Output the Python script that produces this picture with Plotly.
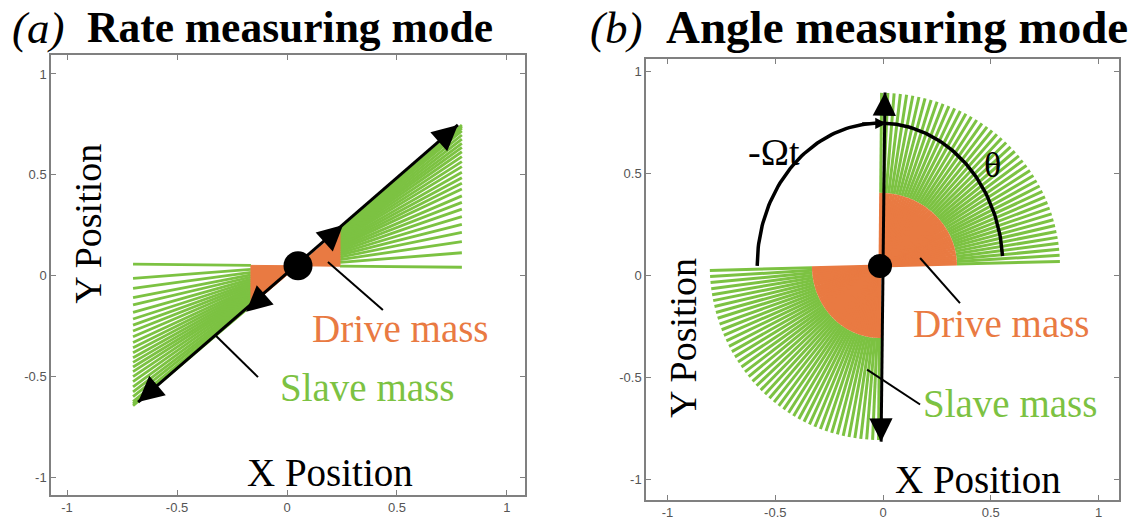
import numpy as np
import plotly.graph_objects as go

GREEN = "#7cc242"
ORANGE = "#e97a42"
AXGRAY = "#808080"
SERIF = "Liberation Serif"

# ---------------- Panel (a): rate measuring mode ----------------
a_pivot = (0.05, 0.048)
a_right_x_in, a_right_x_out = 0.241, 0.795
a_right_end_y = [0.041, 0.113, 0.168, 0.214, 0.254, 0.292, 0.329, 0.363, 0.395, 0.429,
                 0.458, 0.485, 0.512, 0.540, 0.565, 0.590, 0.614, 0.636, 0.656, 0.677,
                 0.697, 0.717, 0.731, 0.740, 0.747]
a_left_x_in, a_left_x_out = -0.164, -0.700
a_left_end_y = [0.056, -0.014, -0.064, -0.110, -0.146, -0.183, -0.216, -0.246, -0.275,
                -0.304, -0.332, -0.358, -0.383, -0.408, -0.431, -0.454, -0.477, -0.502,
                -0.527, -0.552, -0.577, -0.601, -0.626, -0.637, -0.646]
a_axis_tips = [(-0.677, -0.628), (0.777, 0.747)]
a_mid_tips = [(0.255, 0.251), (-0.186, -0.180)]
a_pointers = [((0.186, 0.067), (0.436, -0.171)), ((-0.327, -0.295), (-0.132, -0.504))]

# ---------------- Panel (b): angle measuring mode ----------------
b_pivot = (-0.014, 0.047)
b_q1_angles = [1.5, 3.5, 5.5, 7.5, 9.5, 11.5, 13.5, 15.5, 17.5, 19.5, 21.5, 23.5, 25.5,
               27.5, 29.5, 31.5, 33.5, 35.5, 37.5, 39.5, 41.5, 43.5, 45.5, 47.5, 49.5,
               51.5, 53.5, 55.5, 57.5, 59.5, 61.5, 63.5, 65.5, 67.5, 69.5, 71.5, 73.5,
               75.5, 77.5, 79.5, 81.5, 83.5, 85.5, 87.5, 89.5]
b_q3_angles = [181.5, 183.5, 185.5, 187.5, 189.5, 191.5, 193.5, 195.5, 197.5, 199.5,
               201.5, 203.5, 205.5, 207.5, 209.5, 211.5, 213.5, 215.5, 217.5, 219.5,
               221.5, 223.5, 225.5, 227.5, 229.5, 231.5, 233.5, 235.5, 237.5, 239.5,
               241.5, 243.5, 245.5, 247.5, 249.5, 251.5, 253.5, 255.5, 257.5, 259.5,
               261.5, 263.5, 265.5, 267.5, 269.5]
b_q1_r_in, b_q1_r_out = (0.357, 0.358), (0.835, 0.848)
b_q3_r_in, b_q3_r_out = (0.316, 0.353), (0.790, 0.853)
b_arc_r = (0.57, 0.70)
b_arc_span = (180.0, 4.0)
b_axis_tips = [(0.009, 0.897), (-0.009, -0.814)]
b_arc_tip = (0.016, 0.745)
b_pointers = [((0.172, 0.086), (0.357, -0.135)), ((-0.074, -0.461), (0.172, -0.632))]

tick_vals = [-1, -0.5, 0, 0.5, 1]
tick_text = ["-1", "-0.5", "0", "0.5", "1"]


def fan_segments(pivot, x_in, x_out, end_y):
    px, py = pivot
    xs, ys, inner = [], [], []
    for ye in end_y:
        s = (ye - py) / (x_out - px)
        yi = py + s * (x_in - px)
        xs += [x_in, x_out, None]
        ys += [yi, ye, None]
        inner.append(yi)
    return xs, ys, inner


def radial_segments(pivot, angles, r0, r1):
    px, py = pivot
    xs, ys = [], []
    for a in angles:
        c, s = np.cos(np.radians(a)), np.sin(np.radians(a))
        xs += [px + r0[0] * c, px + r1[0] * c, None]
        ys += [py + r0[1] * s, py + r1[1] * s, None]
    return xs, ys


fig = go.Figure()

# ---- panel (a) ----
for x_in, x_out, ends in [(a_right_x_in, a_right_x_out, a_right_end_y),
                          (a_left_x_in, a_left_x_out, a_left_end_y)]:
    xs, ys, inner = fan_segments(a_pivot, x_in, x_out, ends)
    fig.add_trace(go.Scatter(x=xs, y=ys, mode="lines", line=dict(color=GREEN, width=2.8),
                             xaxis="x", yaxis="y", hoverinfo="skip"))
    fig.add_trace(go.Scatter(x=[a_pivot[0], x_in, x_in, a_pivot[0]],
                             y=[a_pivot[1], inner[0], inner[-1], a_pivot[1]],
                             mode="lines", fill="toself", fillcolor=ORANGE,
                             line=dict(color=ORANGE, width=1), xaxis="x", yaxis="y",
                             hoverinfo="skip"))
fig.add_trace(go.Scatter(x=[t[0] for t in a_axis_tips], y=[t[1] for t in a_axis_tips],
                         mode="lines", line=dict(color="black", width=3),
                         xaxis="x", yaxis="y", hoverinfo="skip"))
for p0, p1 in a_pointers:
    fig.add_trace(go.Scatter(x=[p0[0], p1[0]], y=[p0[1], p1[1]], mode="lines",
                             line=dict(color="black", width=2), xaxis="x", yaxis="y",
                             hoverinfo="skip"))
fig.add_trace(go.Scatter(x=[a_pivot[0]], y=[a_pivot[1]], mode="markers",
                         marker=dict(color="black", size=29), xaxis="x", yaxis="y",
                         hoverinfo="skip"))

# ---- panel (b) ----
for ang, rin, rout in [(b_q1_angles, b_q1_r_in, b_q1_r_out),
                       (b_q3_angles, b_q3_r_in, b_q3_r_out)]:
    xs, ys = radial_segments(b_pivot, ang, rin, rout)
    fig.add_trace(go.Scatter(x=xs, y=ys, mode="lines", line=dict(color=GREEN, width=3),
                             xaxis="x2", yaxis="y2", hoverinfo="skip"))
    xs, ys = radial_segments(b_pivot, ang, (0, 0), rin)
    fig.add_trace(go.Scatter(x=xs, y=ys, mode="lines", line=dict(color=ORANGE, width=3),
                             xaxis="x2", yaxis="y2", hoverinfo="skip"))
th = np.radians(np.linspace(b_arc_span[0], b_arc_span[1], 120))
fig.add_trace(go.Scatter(x=b_pivot[0] + b_arc_r[0] * np.cos(th),
                         y=b_pivot[1] + b_arc_r[1] * np.sin(th),
                         mode="lines", line=dict(color="black", width=3.5),
                         xaxis="x2", yaxis="y2", hoverinfo="skip"))
fig.add_trace(go.Scatter(x=[t[0] for t in b_axis_tips], y=[t[1] for t in b_axis_tips],
                         mode="lines", line=dict(color="black", width=3),
                         xaxis="x2", yaxis="y2", hoverinfo="skip"))
for p0, p1 in b_pointers:
    fig.add_trace(go.Scatter(x=[p0[0], p1[0]], y=[p0[1], p1[1]], mode="lines",
                             line=dict(color="black", width=2), xaxis="x2", yaxis="y2",
                             hoverinfo="skip"))
fig.add_trace(go.Scatter(x=[b_pivot[0]], y=[b_pivot[1]], mode="markers",
                         marker=dict(color="black", size=24), xaxis="x2", yaxis="y2",
                         hoverinfo="skip"))

annotations = []


def arrow_head(tip, base, xr, yr, size=1.7, width=3):
    # short arrow: only the head is visible, shaft is drawn by the line trace
    d = np.hypot(base[0] - tip[0], base[1] - tip[1])
    bx = tip[0] + 0.12 * (base[0] - tip[0]) / d
    by = tip[1] + 0.12 * (base[1] - tip[1]) / d
    annotations.append(dict(x=tip[0], y=tip[1], ax=bx, ay=by, xref=xr, yref=yr,
                            axref=xr, ayref=yr, text="", showarrow=True, arrowhead=2,
                            arrowsize=size, arrowwidth=width, arrowcolor="black",
                            standoff=0))


for tip in a_axis_tips + a_mid_tips:
    arrow_head(tip, a_pivot, "x", "y")
for tip in b_axis_tips:
    arrow_head(tip, b_pivot, "x2", "y2", size=1.55)
arrow_head(b_arc_tip, (b_arc_tip[0] - 0.1, b_arc_tip[1]), "x2", "y2", size=0.9, width=2.5)


def txt(x, y, s, xr, yr, size, color="black", angle=0, xanchor="center"):
    annotations.append(dict(x=x, y=y, xref=xr, yref=yr, text=s, showarrow=False,
                            textangle=angle, xanchor=xanchor, yanchor="middle",
                            font=dict(family=SERIF, size=size, color=color)))


txt(0.518, -0.261, "Drive mass", "x", "y", 39, ORANGE)
txt(0.364, -0.558, "Slave mass", "x", "y", 39, GREEN)
txt(-0.905, 0.256, "Y Position", "x", "y", 38, angle=-90)
txt(0.195, -0.975, "X Position", "x", "y", 39)

txt(0.548, -0.233, "Drive mass", "x2", "y2", 39, ORANGE)
txt(0.589, -0.625, "Slave mass", "x2", "y2", 39, GREEN)
txt(-0.928, -0.306, "Y Position", "x2", "y2", 38, angle=-90)
txt(0.441, -1.0, "X Position", "x2", "y2", 39)
txt(-0.505, 0.605, "-Ωt", "x2", "y2", 38)
txt(0.506, 0.542, "θ", "x2", "y2", 36)

W, H = 1137, 525
txt(38 / W, 1 - 28 / H, "<i>(a)</i>", "paper", "paper", 45)
txt(85 / W, 1 - 27 / H, "<b>Rate measuring mode</b>", "paper", "paper", 43.5, xanchor="left")
txt(616 / W, 1 - 28 / H, "<i>(b)</i>", "paper", "paper", 45)
txt(664 / W, 1 - 27 / H, "<b>Angle measuring mode</b>", "paper", "paper", 47, xanchor="left")

axis_common = dict(tickvals=tick_vals, ticktext=tick_text, ticks="inside", ticklen=5,
                   tickcolor=AXGRAY, tickwidth=1, showline=True, linecolor=AXGRAY,
                   linewidth=1.5, mirror="allticks", showgrid=False, zeroline=False,
                   tickfont=dict(family="Liberation Sans", size=13, color="#555555"))

fig.update_layout(
    width=W, height=H, margin=dict(l=0, r=0, t=0, b=0),
    paper_bgcolor="white", plot_bgcolor="white", showlegend=False,
    xaxis=dict(domain=[51 / W, 525 / W], range=[-1.073, 1.082], anchor="y", **axis_common),
    yaxis=dict(domain=[30 / H, 470 / H], range=[-1.089, 1.094], anchor="x", **axis_common),
    xaxis2=dict(domain=[646 / W, 1119 / W], range=[-1.10, 1.095], anchor="y2", **axis_common),
    yaxis2=dict(domain=[25 / H, 466 / H], range=[-1.10, 1.061], anchor="x2", **axis_common),
    annotations=annotations,
)

fig.write_html("out.html")
